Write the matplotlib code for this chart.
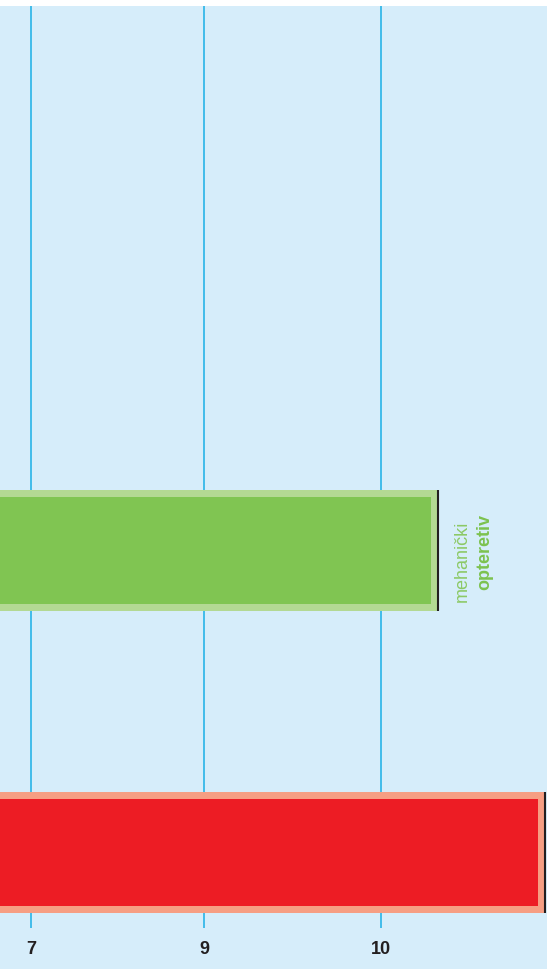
import numpy as np
import matplotlib
matplotlib.use("Agg")
import matplotlib.pyplot as plt
from matplotlib.patches import Rectangle

# ---- data ----
categories = ["", "mehanički opteretiv"]
values = [10.925, 10.32]
tick_values = [7, 9, 10]
tick_labels = ["7", "9", "10"]
label_line1 = "mehanički"
label_line2 = "opteretiv"

# ---- style ----
BG = "#D6EDFA"
GRID = "#1AAFE6"
outer_colors = ["#F69E83", "#B3D993"]
inner_colors = ["#ED1C24", "#80C552"]
EDGE = "#231F20"
TEXT_GREEN = "#7CC24E"
W, H = 547, 969

plt.rcParams['font.family'] = ['Liberation Sans', 'DejaVu Sans']

fig = plt.figure(figsize=(W / 100, H / 100), dpi=100, facecolor="white")
fig.patches.append(Rectangle((0, 0), 1, (H - 6) / H, transform=fig.transFigure,
                             facecolor=BG, edgecolor="none", zorder=-10))
ax = fig.add_axes([0, (H - 928) / H, 1, (928 - 6) / H])
ax.set_facecolor(BG)


def fwd(x):
    x = np.asarray(x, float)
    return np.where(x < 9, (x - 9) * 86.5, (x - 9) * 177.0)


def inv(y):
    y = np.asarray(y, float)
    return np.where(y < 0, y / 86.5 + 9, y / 177.0 + 9)


ax.set_xscale("function", functions=(fwd, inv))
ax.set_xlim(6.642, 10.938)
ax.set_ylim(-0.248, 2.80)

ypos = np.arange(len(values))
bar_h = 0.4
left0 = 6.0

ax.set_axisbelow(True)
ax.grid(axis="x", color=GRID, lw=1.1)
ax.grid(axis="y", visible=False)
ax.set_xticks(tick_values)
ax.set_xticklabels(tick_labels, fontsize=13, fontweight="bold", color="#231F20")
ax.set_yticks([])
ax.tick_params(axis="x", length=0, pad=9.5)
for s in ax.spines.values():
    s.set_visible(False)

# outer bars
ax.barh(ypos, [v - left0 for v in values], left=left0, height=bar_h,
        color=outer_colors, edgecolor="none", zorder=2)

fig.canvas.draw()
to_px = ax.transData
from_px = ax.transData.inverted()
inset = 7.0
for y, v, c in zip(ypos, values, inner_colors):
    (x1, y1) = to_px.transform((v, y + bar_h / 2))
    (x0, y0) = to_px.transform((left0, y - bar_h / 2))
    vi, yt = from_px.transform((x1 - inset, y1 - inset))
    _, yb = from_px.transform((x1 - inset, y0 + inset))
    ax.barh(y, vi - left0, left=left0, height=yt - yb, color=c,
            edgecolor="none", zorder=3)
    ax.vlines(v, y - bar_h / 2, y + bar_h / 2, color=EDGE, lw=1.5, zorder=4)

# green bar label
gy = ypos[1]
gv = values[1]
ax.annotate(label_line1, (gv, gy), xytext=(17.5, -7.5), textcoords="offset points",
            rotation=90, ha="center", va="center", rotation_mode="anchor",
            fontsize=13, color="#8CC965", fontweight="light")
ax.annotate(label_line2, (gv, gy), xytext=(34, -1), textcoords="offset points",
            rotation=90, ha="center", va="center", rotation_mode="anchor",
            fontsize=13, color=TEXT_GREEN, fontweight="bold")

fig.savefig("out.png", dpi=100, facecolor="white")
